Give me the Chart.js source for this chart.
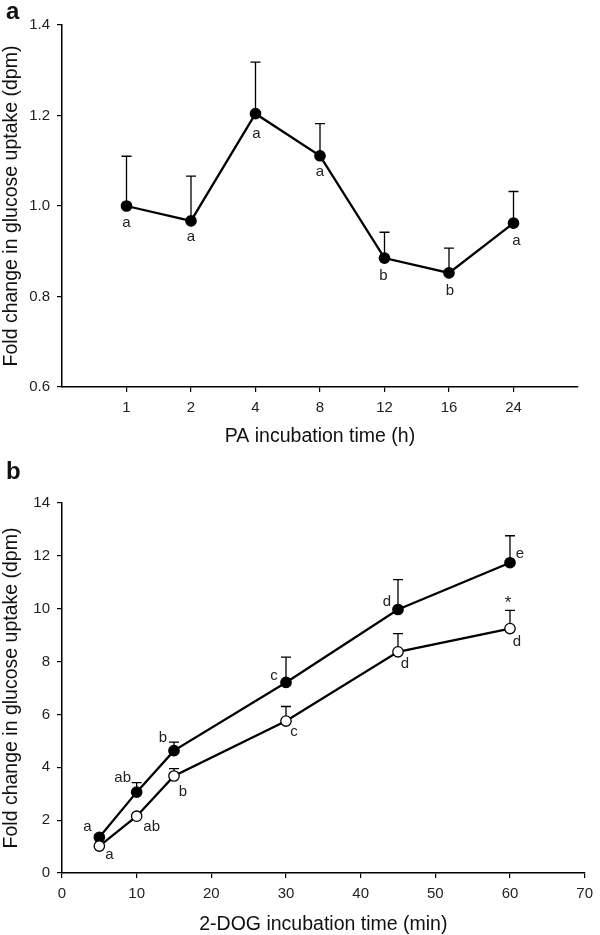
<!DOCTYPE html>
<html>
<head>
<meta charset="utf-8">
<script src="https://cdn.jsdelivr.net/npm/chart.js@4.4.0/dist/chart.umd.min.js"></script>
<style>
  body { margin: 0; background: #fff; width: 600px; height: 935px; position: relative; overflow: hidden;
         font-family: "Liberation Sans", Arial, sans-serif; }
  .panel { position: absolute; left: 0; width: 600px; }
  #wrapA { top: 0; height: 460px; }
  #wrapB { top: 460px; height: 475px; }
  .tag { position: absolute; left: 6px; font-weight: bold; font-size: 24px; color: #111; }
</style>
</head>
<body>
<div class="panel" id="wrapA"><canvas id="chartA" width="600" height="460"></canvas></div>
<div class="panel" id="wrapB"><canvas id="chartB" width="600" height="475"></canvas></div>
<div class="tag" style="top:-3px">a</div>
<div class="tag" style="top:457px">b</div>
<script>
// panel a: PA incubation
const paTimes = ["1", "2", "4", "8", "12", "16", "24"];
const paMean = [1.0, 0.967, 1.204, 1.111, 0.885, 0.852, 0.962];
const paUpper = [1.11, 1.066, 1.318, 1.182, 0.942, 0.907, 1.032];
const paLetters = ["a", "a", "a", "a", "b", "b", "a"];

// panel b: 2-DOG incubation
const dogTimes = [5, 10, 15, 30, 45, 60];
const filledMean = [1.35, 3.06, 4.63, 7.21, 9.97, 11.74];
const filledUpper = [1.45, 3.42, 4.95, 8.17, 11.1, 12.76];
const filledLetters = ["a", "ab", "b", "c", "d", "e"];
const openMean = [1.02, 2.15, 3.67, 5.75, 8.37, 9.25];
const openUpper = [1.02, 2.2, 3.95, 6.3, 9.06, 9.94];
const openLetters = ["a", "ab", "b", "c", "d", "d"];
const openStar = ["", "", "", "", "", "*"];

const FONT = '"Liberation Sans", Arial, sans-serif';

const errBars = {
  id: "errBars",
  beforeDatasetsDraw(chart, args, opts) {
    const ctx = chart.ctx;
    const ys = chart.scales.y;
    ctx.save();
    ctx.strokeStyle = "#000";
    ctx.lineWidth = 1.3;
    (opts.sets || []).forEach((s) => {
      const meta = chart.getDatasetMeta(s.dataset);
      meta.data.forEach((pt, i) => {
        const top = ys.getPixelForValue(s.upper[i]);
        if (pt.y - top < 1) return;
        ctx.beginPath();
        ctx.moveTo(pt.x, pt.y);
        ctx.lineTo(pt.x, top);
        ctx.moveTo(pt.x - 5, top);
        ctx.lineTo(pt.x + 5, top);
        ctx.stroke();
      });
    });
    ctx.restore();
  },
};

const marks = {
  id: "marks",
  afterDatasetsDraw(chart, args, opts) {
    const ctx = chart.ctx;
    ctx.save();
    ctx.fillStyle = "#222";
    ctx.textAlign = "center";
    ctx.textBaseline = "middle";
    (opts.items || []).forEach((it) => {
      ctx.font = (it.size || 15) + "px " + FONT;
      const meta = chart.getDatasetMeta(it.dataset);
      meta.data.forEach((pt, i) => {
        if (!it.texts[i]) return;
        ctx.fillText(it.texts[i], pt.x + it.dx[i], pt.y + it.dy[i]);
      });
    });
    ctx.restore();
  },
};

function axisBase(title, titlePad) {
  return {
    border: { display: true, color: "#000", width: 1.5 },
    grid: { display: true, drawOnChartArea: false, drawTicks: true, tickLength: 5, color: "#000", lineWidth: 1.2 },
    ticks: { color: "#222", font: { family: FONT, size: 15 }, padding: 7 },
    title: { display: true, text: title, color: "#111", font: { family: FONT, size: 19.5, lineHeight: 1 }, padding: titlePad },
  };
}

function lineSet(data, fill) {
  return {
    data,
    borderColor: "#000",
    borderWidth: 2.3,
    tension: 0,
    pointRadius: 5.2,
    pointBackgroundColor: fill,
    pointBorderColor: "#000",
    pointBorderWidth: 1.3,
  };
}

// ---- panel a
const xA = axisBase("PA incubation time (h)", { top: 0, bottom: 14 });
xA.type = "linear";
xA.min = 0;
xA.max = 8;
xA.afterBuildTicks = (s) => { s.ticks = paTimes.map((t, i) => ({ value: i + 1 })); };
xA.ticks.callback = (v) => paTimes[v - 1];
xA.afterFit = (s) => { s.height = 73; };

const yA = axisBase("Fold change in glucose uptake (dpm)", { top: 1.5, bottom: 0 });
yA.min = 0.6;
yA.max = 1.4;
yA.ticks.stepSize = 0.2;
yA.ticks.callback = (v) => v.toFixed(1);
yA.afterFit = (s) => { s.width = 62; };

new Chart(document.getElementById("chartA"), {
  type: "line",
  data: { datasets: [lineSet(paMean.map((m, i) => ({ x: i + 1, y: m })), "#000")] },
  options: {
    responsive: false,
    animation: false,
    layout: { padding: { top: 25, right: 22, bottom: 0, left: 0 } },
    scales: { x: xA, y: yA },
    plugins: {
      legend: { display: false },
      tooltip: { enabled: false },
      errBars: { sets: [{ dataset: 0, upper: paUpper }] },
      marks: { items: [{ dataset: 0, texts: paLetters, dx: [0, 0, 1, 0, -1, 1, 3], dy: [17, 16, 20, 16, 18, 18, 18] }] },
    },
  },
  plugins: [errBars, marks],
});

// ---- panel b
const xB = axisBase("2-DOG incubation time (min)", { top: 0, bottom: 1 });
xB.type = "linear";
xB.min = 0;
xB.max = 70;
xB.ticks.stepSize = 10;
xB.afterFit = (s) => { s.height = 62; };

const yB = axisBase("Fold change in glucose uptake (dpm)", { top: 1.5, bottom: 0 });
yB.min = 0;
yB.max = 14;
yB.ticks.stepSize = 2;
yB.afterFit = (s) => { s.width = 62; };

new Chart(document.getElementById("chartB"), {
  type: "line",
  data: {
    datasets: [
      lineSet(dogTimes.map((t, i) => ({ x: t, y: openMean[i] })), "#fff"),
      lineSet(dogTimes.map((t, i) => ({ x: t, y: filledMean[i] })), "#000"),
    ],
  },
  options: {
    responsive: false,
    animation: false,
    layout: { padding: { top: 43, right: 9, bottom: 0, left: 0 } },
    scales: { x: xB, y: yB },
    plugins: {
      legend: { display: false },
      tooltip: { enabled: false },
      errBars: { sets: [{ dataset: 0, upper: openUpper }, { dataset: 1, upper: filledUpper }] },
      marks: {
        items: [
          { dataset: 1, texts: filledLetters, dx: [-12, -14, -11, -12, -11, 10], dy: [-10, -14, -13, -7, -8, -9] },
          { dataset: 0, texts: openLetters, dx: [10, 15, 9, 8, 7, 7], dy: [9, 11, 16, 11, 12, 13] },
          { dataset: 0, texts: openStar, size: 17, dx: [0, 0, 0, 0, 0, -2], dy: [0, 0, 0, 0, 0, -25] },
        ],
      },
    },
  },
  plugins: [errBars, marks],
});
</script>
</body>
</html>
